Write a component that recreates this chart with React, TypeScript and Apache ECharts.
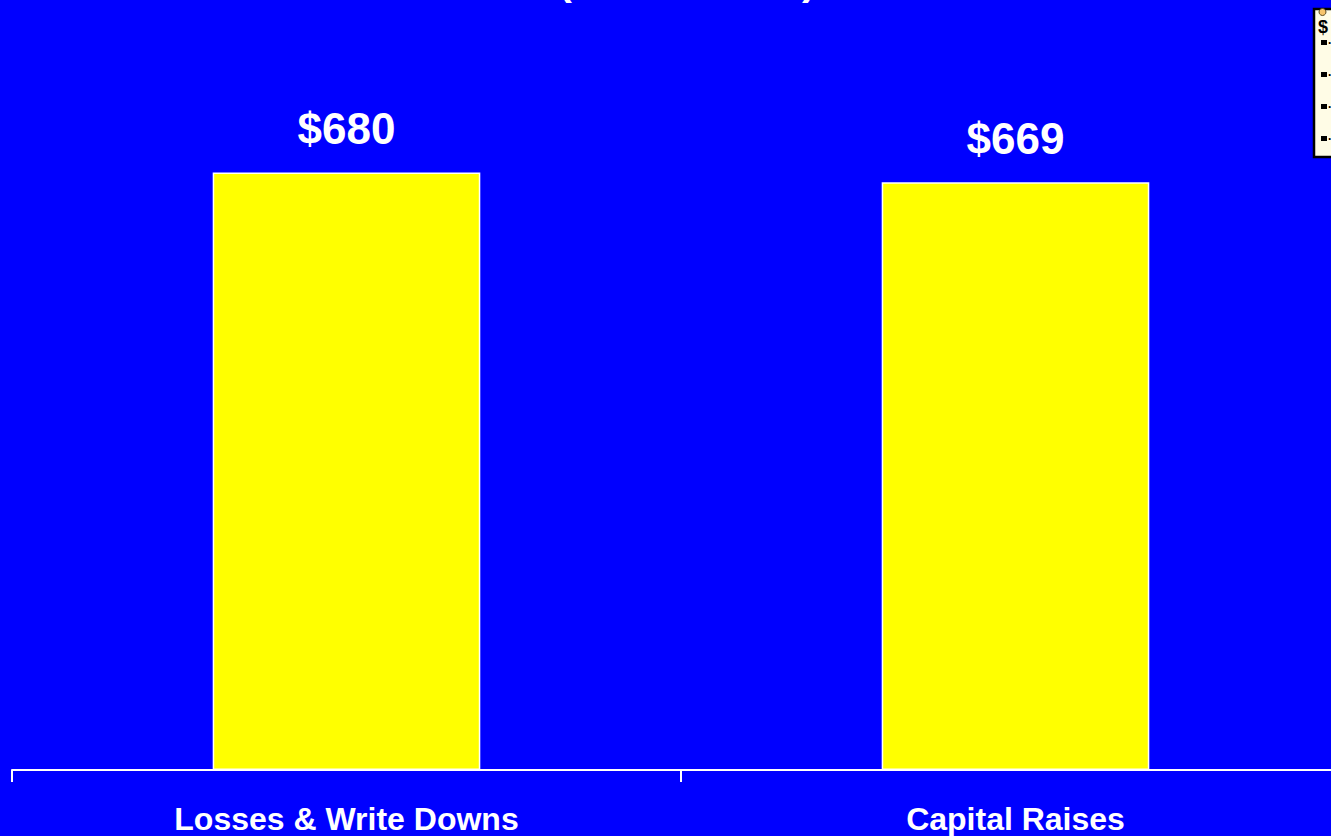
import React, { useEffect, useRef } from "react";
import * as echarts from "echarts";

const categories = ["Losses & Write Downs", "Capital Raises"];
const values = [680, 669];
const titleText = "($ in Billions)";
const legendTitle = "$";
const legendItems = [".", ".", ".", "."];

export default function App() {
  const ref = useRef<HTMLDivElement>(null);
  useEffect(() => {
    if (!ref.current) return;
    const chart = echarts.init(ref.current, null, { renderer: "svg" });
    const legendGraphics: any[] = [
      {
        type: "rect",
        shape: { x: 1314, y: 9, width: 40, height: 148 },
        style: { fill: "#FFFCE6", stroke: "#000", lineWidth: 2.5 },
      },
      {
        type: "circle",
        shape: { cx: 1322.5, cy: 12, r: 3.5 },
        style: { fill: "#F7C46C", stroke: "#5a4a20", lineWidth: 1 },
      },
      {
        type: "text",
        x: 1318,
        y: 18,
        style: {
          text: legendTitle,
          fill: "#000",
          font: "bold 18px 'Liberation Sans', Arial, sans-serif",
        },
      },
    ];
    legendItems.forEach((t, i) => {
      const y = 40 + i * 32;
      legendGraphics.push({
        type: "rect",
        shape: { x: 1321, y, width: 6, height: 5 },
        style: { fill: "#000" },
      });
      legendGraphics.push({
        type: "text",
        x: 1328,
        y: y - 6,
        style: {
          text: t,
          fill: "#000",
          font: "bold 12px 'Liberation Sans', Arial, sans-serif",
        },
      });
    });
    chart.setOption({
      animation: false,
      backgroundColor: "#0000FF",
      title: {
        text: titleText,
        left: 682,
        textAlign: "center",
        top: -45,
        textStyle: {
          color: "#fff",
          fontSize: 41,
          fontWeight: "bold",
          fontFamily: "'Liberation Sans', Arial, sans-serif",
        },
      },
      grid: { left: 12, right: 10, top: 155, bottom: 66 },
      xAxis: {
        type: "category",
        data: categories,
        axisLine: { lineStyle: { color: "#fff", width: 2 } },
        axisTick: { show: true, length: 12, lineStyle: { color: "#fff", width: 2 } },
        axisLabel: {
          color: "#fff",
          fontSize: 32,
          fontWeight: "bold",
          fontFamily: "'Liberation Sans', Arial, sans-serif",
          margin: 33,
          interval: 0,
        },
      },
      yAxis: {
        type: "value",
        min: 0,
        max: 700,
        show: false,
        splitLine: { show: false },
      },
      series: [
        {
          type: "bar",
          data: values,
          barWidth: "40%",
          itemStyle: { color: "#FFFF00", borderColor: "#fff", borderWidth: 1.5 },
          label: {
            show: true,
            position: "top",
            distance: 22,
            formatter: (p: any) => "$" + p.value,
            color: "#fff",
            fontSize: 44,
            fontWeight: "bold",
            fontFamily: "'Liberation Sans', Arial, sans-serif",
          },
        },
      ],
      graphic: legendGraphics,
    });
    return () => chart.dispose();
  }, []);
  return (
    <div
      style={{
        position: "absolute",
        left: 0,
        top: 0,
        width: 1331,
        height: 836,
        overflow: "hidden",
      }}
    >
      <div ref={ref} style={{ width: 1360, height: 836 }} />
    </div>
  );
}
